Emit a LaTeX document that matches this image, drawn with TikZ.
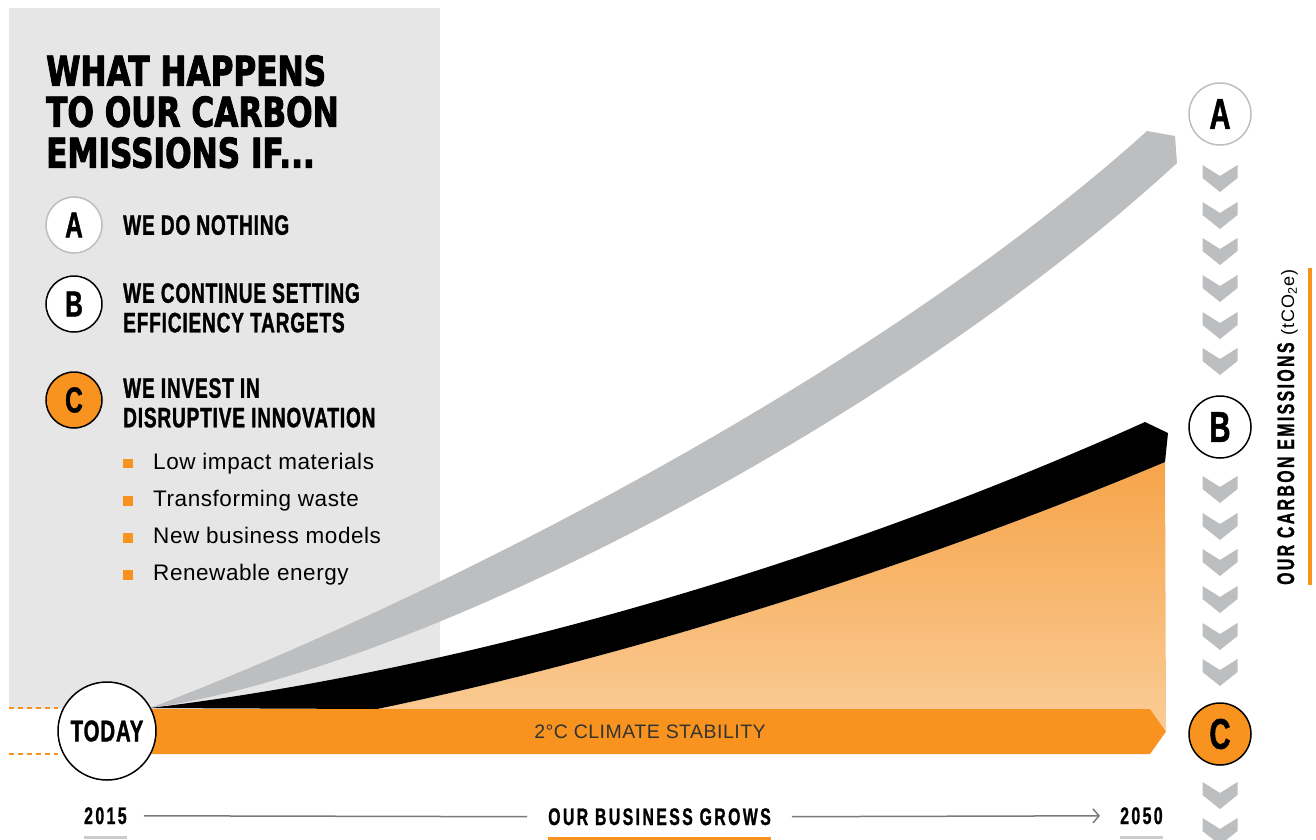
\documentclass[tikz,border=0pt]{standalone}
\usepackage{fontspec}
\setmainfont{Liberation Sans}
\newfontfamily\heavyfont[FakeStretch=0.76,FakeBold=2.2]{DejaVu Sans}
\newfontfamily\condfont[FakeStretch=0.68,LetterSpace=3,FakeBold=1.2]{Liberation Sans}
\newfontfamily\trackfont[FakeStretch=0.66,LetterSpace=10,FakeBold=1]{Liberation Sans}
\newfontfamily\lightfont[LetterSpace=6]{Liberation Sans}
\newfontfamily\itemfont[LetterSpace=2.5]{Liberation Sans}
\usetikzlibrary{arrows.meta}
\definecolor{panelgray}{HTML}{E6E6E7}
\definecolor{bandgray}{HTML}{BCBEC0}
\definecolor{cfOrange}{HTML}{F7931E}
\definecolor{fadeTop}{HTML}{F6A44A}
\definecolor{fadeBottom}{HTML}{FACC97}
\definecolor{lineGray}{HTML}{7A7A7A}

\begin{document}
\begin{tikzpicture}[x=1pt, y=-1pt,
    letterdisc/.style={circle, draw, line width=1.5pt, minimum size=56pt, inner sep=0pt,
      font=\condfont\bfseries\fontsize{36}{36}\selectfont},
    bigdisc/.style={letterdisc, minimum size=62pt, font=\condfont\bfseries\fontsize{43}{43}\selectfont},
    legendtext/.style={anchor=north west, inner sep=0pt, align=left,
      font=\condfont\bfseries\fontsize{28}{29.5}\selectfont},
    itemtext/.style={anchor=base west, inner sep=0pt, font=\itemfont\fontsize{22.5}{27}\selectfont},
    bulletsq/.style={fill=cfOrange, minimum size=9.5pt, inner sep=0pt},
    axislabel/.style={anchor=base west, inner sep=0pt, font=\trackfont\bfseries\fontsize{24}{24}\selectfont},
    axisline/.style={lineGray, line width=1.5pt},
    underbar/.style={line width=3pt},
    chev/.pic={\fill[bandgray] (-17.5,0) -- (0,11) -- (17.5,0) -- (17.5,13) -- (0,27) -- (-17.5,13) -- cycle;}]
    \useasboundingbox (0,0) rectangle (1316,839);
    \fill[panelgray] (9,8) rectangle (440,709);

    % A: we do nothing
    \fill[bandgray] (150,708) .. controls (420,605) and (867,383) .. (1147,131)
      -- (1175,136) -- (1177,163) .. controls (897,421) and (420,670) .. (150,708) -- cycle;
    % C: area under the target line
    \shade[top color=fadeTop, bottom color=fadeBottom]
      (377,709) .. controls (627,657) and (915,567) .. (1165,462)
      -- (1166,731) -- (1150,709) -- cycle;
    % B: efficiency targets
    \fill[black] (150,708) .. controls (480,668) and (845,557) .. (1145,422)
      -- (1168,433) -- (1165,462) .. controls (915,567) and (627,657) .. (377,709) -- cycle;
    \fill[cfOrange] (107,709) -- (1150,709) -- (1166,731.5) -- (1150,754) -- (107,754) -- cycle;
    \node[font=\itemfont\fontsize{19.5}{20}\selectfont, text=black!80] (stable) at (650,731.5) {2°C CLIMATE STABILITY};

    \draw[cfOrange, line width=2pt, dash pattern=on 5pt off 4pt] (9,708) -- (58,708);
    \draw[cfOrange, line width=2pt, dash pattern=on 5pt off 4pt] (9,754) -- (58,754);
    \node[circle, draw, fill=white, line width=1.5pt, minimum size=98pt, inner sep=0pt,
      font=\condfont\bfseries\fontsize{30}{30}\selectfont] (today) at (107,731) {TODAY};

    % legend
    \node[anchor=north west, inner sep=0pt, align=left,
      font=\heavyfont\bfseries\fontsize{41}{41}\selectfont] (title) at (46,55) {WHAT HAPPENS\\TO OUR CARBON\\EMISSIONS IF...};
    \node[letterdisc, draw=bandgray, fill=white] (la) at (74,225) {A};
    \node[letterdisc, fill=white] (lb) at (74,304) {B};
    \node[letterdisc, fill=cfOrange] (lc) at (74,400) {C};
    \node[legendtext] (ta) at (123,215) {WE DO NOTHING};
    \node[legendtext] (tb) at (123,283) {WE CONTINUE SETTING\\EFFICIENCY TARGETS};
    \node[legendtext] (tc) at (123,378) {WE INVEST IN\\DISRUPTIVE INNOVATION};
    \node[bulletsq] (sq1) at (128,463.5) {};
    \node[bulletsq] (sq2) at (128,501) {};
    \node[bulletsq] (sq3) at (128,538) {};
    \node[bulletsq] (sq4) at (128,575) {};
    \node[itemtext] (it1) at (153,469) {Low impact materials};
    \node[itemtext] (it2) at (153,506) {Transforming waste};
    \node[itemtext] (it3) at (153,543) {New business models};
    \node[itemtext] (it4) at (153,580) {Renewable energy};

    % right scale
    \node[bigdisc, draw=bandgray, fill=white] (ra) at (1220,114) {A};
    \node[bigdisc, fill=white] (rb) at (1220,427) {B};
    \node[bigdisc, fill=cfOrange] (rc) at (1220,734) {C};
    \pic at (1220,165) {chev};
    \pic at (1220,202) {chev};
    \pic at (1220,238) {chev};
    \pic at (1220,275) {chev};
    \pic at (1220,312) {chev};
    \pic at (1220,348) {chev};
    \pic at (1220,476) {chev};
    \pic at (1220,513) {chev};
    \pic at (1220,549) {chev};
    \pic at (1220,586) {chev};
    \pic at (1220,623) {chev};
    \pic at (1220,659) {chev};
    \pic at (1220,782) {chev};
    \pic at (1220,818) {chev};
    \node[rotate=90, anchor=base west, inner sep=0pt] (ylabel) at (1294,585)
      {{\trackfont\bfseries\fontsize{24}{24}\selectfont OUR CARBON EMISSIONS}\hspace{7pt}{\lightfont\fontsize{18}{18}\selectfont (tCO\textsubscript{2}e)}};
    \draw[cfOrange, line width=4pt] (1310,268) -- (1310,585);

    % time axis
    \node[axislabel] (y2015) at (84,824) {2015};
    \node[axislabel] (grows) at (548,825) {OUR BUSINESS GROWS};
    \node[axislabel] (y2050) at (1120,824) {2050};
    \draw[axisline, shorten <=17pt, shorten >=21pt] (y2015.east) -- (grows.west);
    \draw[axisline, shorten <=21pt, shorten >=20pt, -{Straight Barb[length=6pt,width=14pt]}] (grows.east) -- (y2050.west);
    \draw[underbar, black!20] ([yshift=-13pt]y2015.base west) -- ([yshift=-13pt]y2015.base east);
    \draw[underbar, cfOrange] ([yshift=-13pt]grows.base west) -- ([yshift=-13pt]grows.base east);
    \draw[underbar, black!20] ([yshift=-13pt]y2050.base west) -- ([yshift=-13pt]y2050.base east);
\end{tikzpicture}
\end{document}
